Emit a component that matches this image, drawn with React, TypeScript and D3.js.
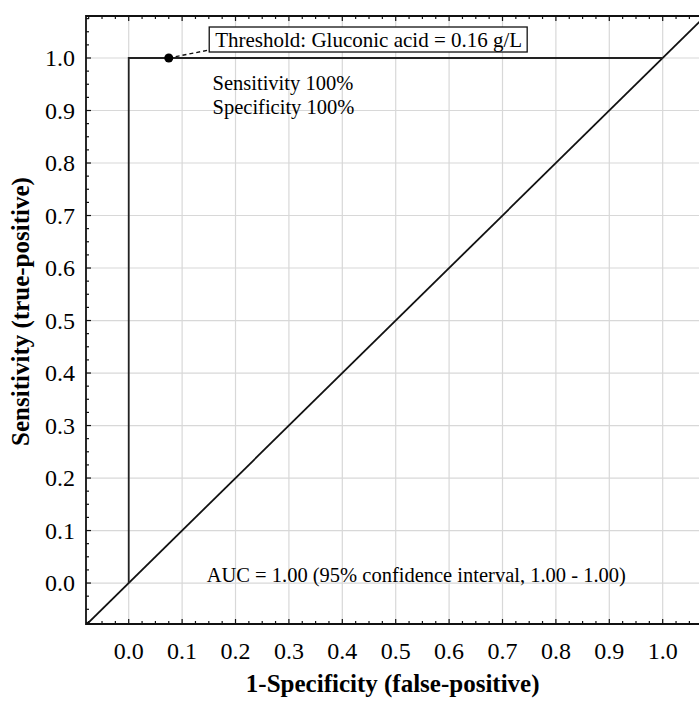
import { useEffect, useRef } from 'react';
import * as d3 from 'd3';

// ROC curve points (1-specificity, sensitivity)
const rocX = [0, 0, 1];
const rocY = [0, 1, 1];
// reference diagonal
const diagX = [-0.1, 1.1];
const diagY = [-0.1, 1.1];
// chosen threshold point
const thresholdPoint = [0.075, 1.0];

const majorTicks = [0, 0.1, 0.2, 0.3, 0.4, 0.5, 0.6, 0.7, 0.8, 0.9, 1.0];
const tickLabels = ['0.0', '0.1', '0.2', '0.3', '0.4', '0.5', '0.6', '0.7', '0.8', '0.9', '1.0'];

const thresholdLabel = 'Threshold: Gluconic acid = 0.16 g/L';
const statLines = ['Sensitivity 100%', 'Specificity 100%'];
const aucLabel = 'AUC = 1.00 (95% confidence interval, 1.00 - 1.00)';
const xTitle = '1-Specificity (false-positive)';
const yTitle = 'Sensitivity (true-positive)';

export default function App() {
    const ref = useRef<SVGSVGElement>(null);

    useEffect(() => {
        const svg = d3.select(ref.current);
        svg.selectAll('*').remove();

        const left = 86, right = 699, top = 16, bottom = 624;
        const font = 'Liberation Serif';

        const x = d3.scaleLinear().domain([-0.08, 1.068]).range([left, right]);
        const y = d3.scaleLinear().domain([-0.078, 1.08]).range([bottom, top]);

        svg.append('defs').append('clipPath').attr('id', 'plotclip')
            .append('rect')
            .attr('x', left).attr('y', top)
            .attr('width', right - left).attr('height', bottom - top);

        // grid
        const grid = svg.append('g');
        grid.selectAll('.gx').data(majorTicks).join('line')
            .attr('class', 'gx')
            .attr('x1', d => x(d)).attr('x2', d => x(d))
            .attr('y1', top).attr('y2', bottom)
            .attr('stroke', '#d8d8d8').attr('stroke-width', 1.2);
        grid.selectAll('.gy').data(majorTicks).join('line')
            .attr('class', 'gy')
            .attr('y1', d => y(d)).attr('y2', d => y(d))
            .attr('x1', left).attr('x2', right)
            .attr('stroke', '#d8d8d8').attr('stroke-width', 1.2);

        const plot = svg.append('g').attr('clip-path', 'url(#plotclip)');
        const line = d3.line<[number, number]>().x(d => x(d[0])).y(d => y(d[1]));

        // diagonal
        plot.append('path')
            .datum(diagX.map((d, i) => [d, diagY[i]] as [number, number]))
            .attr('fill', 'none').attr('stroke', '#111').attr('stroke-width', 1.8)
            .attr('d', line);

        // ROC curve
        plot.append('path')
            .datum(rocX.map((d, i) => [d, rocY[i]] as [number, number]))
            .attr('fill', 'none').attr('stroke', '#222').attr('stroke-width', 1.8)
            .attr('d', line);

        // minor/major ticks (inward)
        const notMajor = (v: number) => Math.abs(Math.round(v * 10) - v * 10) > 0.01;
        const minor = d3.range(-0.075, 1.07, 0.025).filter(notMajor);
        const minorY = d3.range(-0.075, 1.08, 0.025).filter(notMajor);
        const ticks = svg.append('g').attr('stroke', '#111').attr('stroke-width', 1.2);
        const addX = (vals: number[], len: number) => {
            vals.forEach(v => {
                ticks.append('line').attr('x1', x(v)).attr('x2', x(v)).attr('y1', bottom).attr('y2', bottom - len);
                ticks.append('line').attr('x1', x(v)).attr('x2', x(v)).attr('y1', top).attr('y2', top + len);
            });
        };
        addX(minor, 3);
        addX(majorTicks, 5);
        const addY = (vals: number[], len: number) => {
            vals.forEach(v => {
                ticks.append('line').attr('y1', y(v)).attr('y2', y(v)).attr('x1', left).attr('x2', left + len);
            });
        };
        addY(minorY, 3);
        addY(majorTicks, 5);

        // axis frame
        svg.append('path')
            .attr('d', `M${right},${top}H${left}V${bottom}H${right}`)
            .attr('fill', 'none').attr('stroke', '#111').attr('stroke-width', 1.8);

        // tick labels
        svg.append('g').selectAll('text').data(majorTicks).join('text')
            .attr('x', 75).attr('y', d => y(d)).attr('dy', '0.35em')
            .attr('text-anchor', 'end')
            .attr('font-family', font).attr('font-size', 24)
            .text((d, i) => tickLabels[i]);
        svg.append('g').selectAll('text').data(majorTicks).join('text')
            .attr('x', d => x(d)).attr('y', 659)
            .attr('text-anchor', 'middle')
            .attr('font-family', font).attr('font-size', 24)
            .text((d, i) => tickLabels[i]);

        // threshold point + label
        const px = x(thresholdPoint[0]), py = y(thresholdPoint[1]);
        const label = svg.append('text')
            .attr('x', x(0.162)).attr('y', y(1.0) - 11)
            .attr('font-family', font).attr('font-size', 21)
            .text(thresholdLabel);
        const bb = (label.node() as SVGTextElement).getBBox();
        svg.append('rect')
            .attr('x', bb.x - 6).attr('y', bb.y - 1)
            .attr('width', bb.width + 11).attr('height', bb.height + 1)
            .attr('fill', 'white').attr('stroke', '#111').attr('stroke-width', 1.3);
        label.raise();
        svg.append('line')
            .attr('x1', px).attr('y1', py)
            .attr('x2', bb.x - 6).attr('y2', bb.y + bb.height - 2)
            .attr('stroke', '#111').attr('stroke-width', 1.4).attr('stroke-dasharray', '4,3');
        svg.append('circle').attr('cx', px).attr('cy', py).attr('r', 4.5).attr('fill', '#000');

        svg.append('g').selectAll('text').data(statLines).join('text')
            .attr('x', x(0.157)).attr('y', (d, i) => y(1.0) + 32 + i * 24)
            .attr('font-family', font).attr('font-size', 20.5)
            .text(d => d);

        svg.append('text')
            .attr('x', x(0.146)).attr('y', y(0) - 1)
            .attr('font-family', font).attr('font-size', 20.5)
            .text(aucLabel);

        // axis titles
        svg.append('text')
            .attr('x', (x(0) + x(1)) / 2 - 3).attr('y', 692)
            .attr('text-anchor', 'middle')
            .attr('font-family', font).attr('font-size', 25).attr('font-weight', 'bold')
            .text(xTitle);
        svg.append('text')
            .attr('transform', `translate(29,${(y(0) + y(1)) / 2 - 9}) rotate(-90)`)
            .attr('text-anchor', 'middle')
            .attr('font-family', font).attr('font-size', 25).attr('font-weight', 'bold')
            .text(yTitle);
    }, []);

    return (
        <svg ref={ref} width={699} height={702}
            style={{ position: 'absolute', left: 0, top: 0, background: 'white' }} />
    );
}
